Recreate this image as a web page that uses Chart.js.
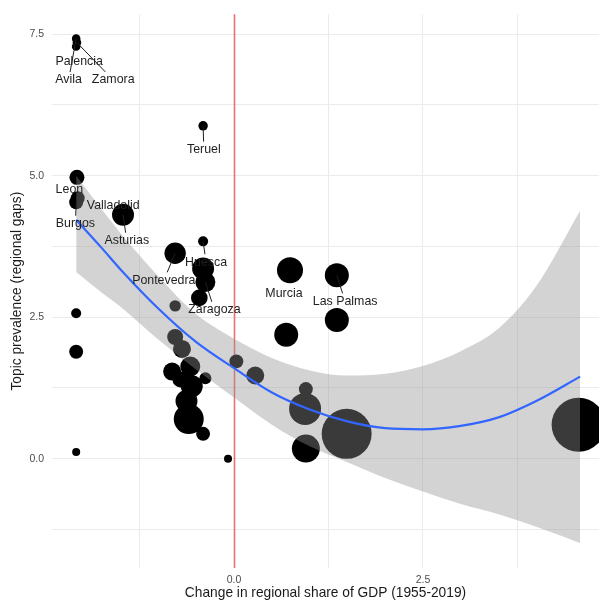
<!DOCTYPE html>
<html>
<head>
<meta charset="utf-8">
<script src="https://cdn.jsdelivr.net/npm/chart.js@4.4.1/dist/chart.umd.min.js"></script>
<style>
  html, body { margin: 0; padding: 0; background: #ffffff; }
  canvas { display: block; }
</style>
</head>
<body>
<canvas id="chart" width="599" height="605"></canvas>
<script>
// Provinces: change in regional share of GDP vs. topic prevalence (regional gaps).
// The first entries carry a name label; the rest are unlabeled provinces.
const names = ['Avila', 'Zamora', 'Palencia', 'Leon', 'Valladolid', 'Burgos', 'Asturias',
  'Teruel', 'Pontevedra', 'Huesca', 'Zaragoza', 'Murcia', 'Las Palmas'];

const gdpChange = [
  -2.09, -2.08, -2.09, -2.08, -2.07, -2.09, -1.47,
  -0.41, -0.78, -0.41, -0.38, 0.74, 1.36,
  -0.41, -0.46, -2.09, -2.09, -2.09, -0.78,
  -0.78, -0.69, -0.82, -0.58, -0.71, -0.38, -0.56, -0.63, -0.60, -0.41,
  0.03, 0.28, -0.08,
  0.95, 0.94, 0.95, 1.49, 1.36, 0.69, 4.56
];

const topicPrev = [
  7.42, 7.35, 7.28, 4.97, 4.60, 4.53, 4.31,
  5.88, 3.63, 3.84, 3.12, 3.33, 3.24,
  3.36, 2.84, 2.57, 1.89, 0.12, 2.70,
  2.15, 1.94, 1.54, 1.63, 1.40, 1.42, 1.28, 1.02, 0.70, 0.44,
  1.72, 1.47, 0.00,
  1.23, 0.88, 0.18, 0.44, 2.45, 2.19, 0.60
];

// Marker area is proportional to this weight.
const weight = [
  2.05, 2.05, 2.05, 6.25, 5.4, 5.4, 13.4,
  2.5, 12.7, 2.8, 11.1, 18.8, 16,
  13.4, 7.7, 2.8, 5.4, 1.8, 3.6,
  7.1, 9, 9, 11.1, 7.1, 4, 13.4, 13.4, 25, 5.4,
  5.4, 9, 1.8,
  5.4, 28.4, 21.8, 69.4, 16, 16, 81
];

// Where each name label sits, in data units.
const labelX = [-2.19, -1.60, -2.05, -2.18, -1.60, -2.10, -1.42, -0.40, -0.93, -0.37, -0.26, 0.66, 1.47];
const labelY = [6.69, 6.69, 7.02, 4.76, 4.48, 4.15, 3.85, 5.46, 3.15, 3.47, 2.63, 2.92, 2.78];

// Fitted trend and its confidence band.
const fitX     = [-2.09, -1.75, -1.5, -1.0, -0.5, 0.0, 0.5, 1.0, 1.5, 2.0, 2.5, 3.0, 3.5, 4.0, 4.58];
const fitY     = [4.22, 3.72, 3.34, 2.65, 2.06, 1.60, 1.17, 0.87, 0.66, 0.54, 0.52, 0.58, 0.73, 1.02, 1.45];
const fitUpper = [5.00, 4.40, 3.98, 3.22, 2.55, 2.12, 1.78, 1.56, 1.47, 1.50, 1.64, 1.90, 2.30, 3.05, 4.38];
const fitLower = [3.30, 2.93, 2.68, 2.10, 1.57, 1.08, 0.60, 0.22, -0.06, -0.34, -0.58, -0.80, -0.98, -1.20, -1.49];

const FONT = '"Liberation Sans", Arial, Helvetica, sans-serif';
const radius = w => 3 * Math.sqrt(w);

const bubbles = gdpChange.map((x, i) => ({ x, y: topicPrev[i], r: radius(weight[i]) }));
const pairs = ys => fitX.map((x, i) => ({ x, y: ys[i] }));

const isMajor = v => Math.abs(v / 2.5 - Math.round(v / 2.5)) < 1e-6;

// Vertical reference line at zero change.
const zeroLine = {
  id: 'zeroLine',
  beforeDatasetsDraw(chart) {
    const { ctx, chartArea, scales } = chart;
    const px = Math.round(scales.x.getPixelForValue(0)) + 0.5;
    ctx.save();
    ctx.strokeStyle = 'rgba(235, 30, 30, 0.6)';
    ctx.lineWidth = 1.6;
    ctx.beginPath();
    ctx.moveTo(px, chartArea.top);
    ctx.lineTo(px, chartArea.bottom);
    ctx.stroke();
    ctx.restore();
  }
};

// Province names with short leader segments back to their markers.
const provinceLabels = {
  id: 'provinceLabels',
  afterDatasetsDraw(chart) {
    const { ctx, scales: { x, y } } = chart;
    ctx.save();
    ctx.font = '12.4px ' + FONT;
    ctx.textAlign = 'center';
    ctx.textBaseline = 'middle';
    ctx.fillStyle = '#1f1f1f';
    ctx.strokeStyle = '#1f1f1f';
    ctx.lineWidth = 1;
    names.forEach((name, i) => {
      const px = x.getPixelForValue(gdpChange[i]);
      const py = y.getPixelForValue(topicPrev[i]);
      const lx = x.getPixelForValue(labelX[i]);
      const ly = y.getPixelForValue(labelY[i]);
      const hw = ctx.measureText(name).width / 2 + 1.5;
      const hh = 8;
      const dx = lx - px, dy = ly - py;
      let s = Infinity;
      if (dx !== 0) s = Math.min(s, hw / Math.abs(dx));
      if (dy !== 0) s = Math.min(s, hh / Math.abs(dy));
      if (s < 1) {
        const ex = lx - dx * s, ey = ly - dy * s;
        const len = Math.hypot(ex - px, ey - py);
        if (len > radius(weight[i]) + 3) {
          ctx.beginPath();
          ctx.moveTo(px, py);
          ctx.lineTo(ex, ey);
          ctx.stroke();
        }
      }
      ctx.fillText(name, lx, ly);
    });
    ctx.restore();
  }
};

const gridColor = '#ebebeb';

new Chart(document.getElementById('chart'), {
  type: 'scatter',
  data: {
    datasets: [
      {
        type: 'line', label: 'fit', data: pairs(fitY), showLine: true,
        borderColor: '#3366FF', borderWidth: 2.2, pointRadius: 0,
        cubicInterpolationMode: 'monotone', fill: false, order: 1
      },
      {
        type: 'line', label: 'upper', data: pairs(fitUpper), showLine: true,
        borderColor: 'rgba(0,0,0,0)', borderWidth: 0, pointRadius: 0,
        cubicInterpolationMode: 'monotone',
        fill: '+1', backgroundColor: 'rgba(145,145,145,0.4)', order: 2
      },
      {
        type: 'line', label: 'lower', data: pairs(fitLower), showLine: true,
        borderColor: 'rgba(0,0,0,0)', borderWidth: 0, pointRadius: 0,
        cubicInterpolationMode: 'monotone', fill: false, order: 2
      },
      {
        type: 'bubble', label: 'provinces', data: bubbles,
        backgroundColor: '#000000', borderWidth: 0, hoverRadius: 0, order: 3
      }
    ]
  },
  options: {
    responsive: false,
    animation: false,
    devicePixelRatio: 1,
    layout: { autoPadding: false, padding: { top: 10, right: 0, bottom: 0, left: 0 } },
    plugins: { legend: { display: false }, tooltip: { enabled: false } },
    events: [],
    scales: {
      x: {
        type: 'linear', min: -2.41, max: 4.83,
        afterFit: s => { s.height = 37; },
        border: { display: false },
        grid: { color: gridColor, lineWidth: 1, drawTicks: false },
        ticks: {
          stepSize: 1.25, includeBounds: false, autoSkip: false, maxRotation: 0,
          padding: 6, color: '#4d4d4d', font: { family: FONT, size: 10.5 },
          callback: v => isMajor(v) ? v.toFixed(1) : ''
        },
        title: {
          display: true, text: 'Change in regional share of GDP (1955-2019)',
          color: '#1a1a1a', font: { family: FONT, size: 13.75 },
          padding: { top: 0, bottom: 4 }
        }
      },
      y: {
        type: 'linear', min: -1.93, max: 7.85,
        afterFit: s => { s.width = 52; },
        border: { display: false },
        grid: { color: gridColor, lineWidth: 1, drawTicks: false },
        ticks: {
          stepSize: 1.25, includeBounds: false, autoSkip: false,
          padding: 8, color: '#4d4d4d', font: { family: FONT, size: 10.5 },
          callback: v => isMajor(v) ? v.toFixed(1) : ''
        },
        title: {
          display: true, text: 'Topic prevalence (regional gaps)',
          color: '#1a1a1a', font: { family: FONT, size: 13.75 },
          padding: { top: 9, bottom: 0 }
        }
      }
    }
  },
  plugins: [zeroLine, provinceLabels]
});
</script>
</body>
</html>
